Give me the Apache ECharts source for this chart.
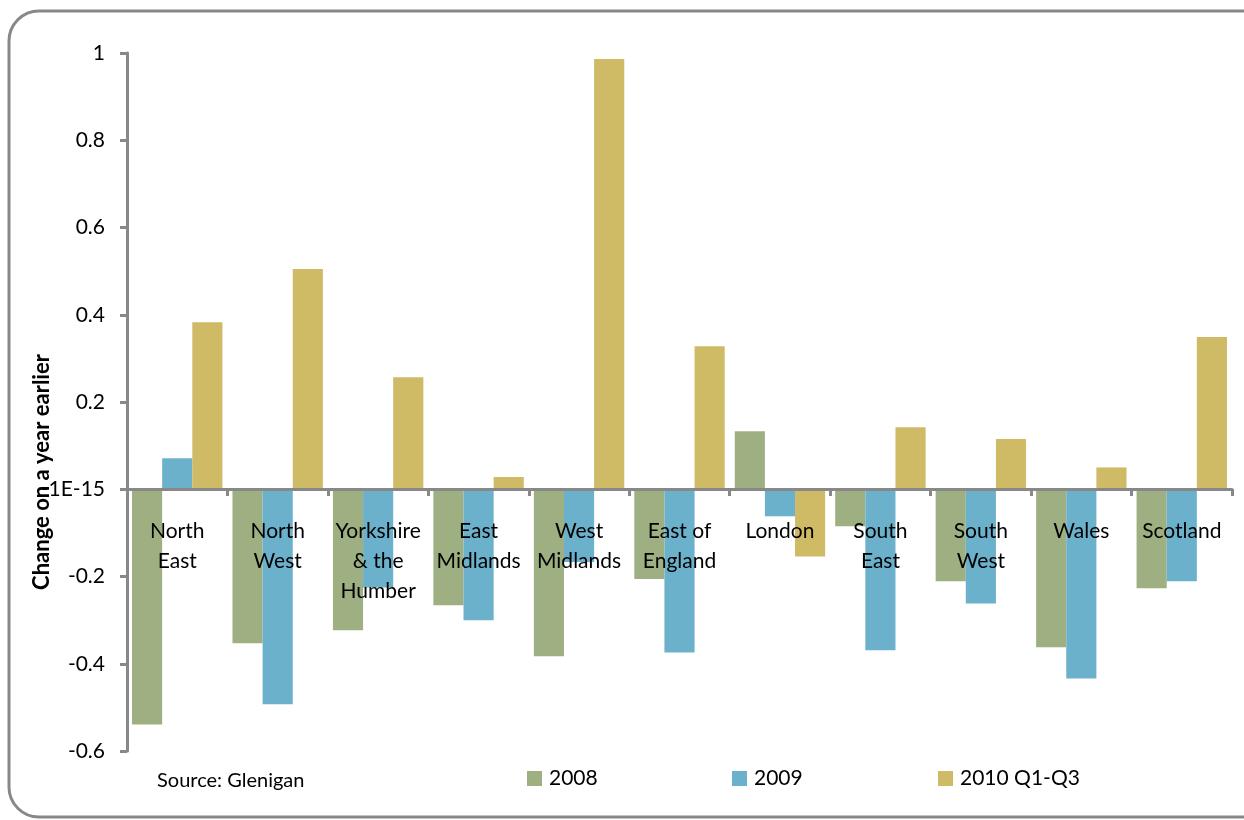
<!DOCTYPE html>
<html><head><meta charset="utf-8">
<script src="https://cdn.jsdelivr.net/npm/echarts@6/dist/echarts.min.js"></script>
<style>html,body{margin:0;padding:0;background:#fff}#c{width:1244px;height:820px}</style>
</head><body><div id="c"></div>
<script>
var categories = ['North\nEast','North\nWest','Yorkshire\n& the\nHumber','East\nMidlands','West\nMidlands','East of\nEngland','London','South\nEast','South\nWest','Wales','Scotland'];
var s2008 = [-0.539,-0.353,-0.323,-0.266,-0.383,-0.206,0.133,-0.085,-0.211,-0.362,-0.227];
var s2009 = [0.071,-0.493,-0.225,-0.300,-0.167,-0.374,-0.062,-0.369,-0.262,-0.434,-0.211];
var s2010 = [0.383,0.505,0.257,0.028,0.986,0.328,-0.154,0.142,0.115,0.050,0.349];
var seriesNames = ['2008','2009','2010 Q1-Q3'];
var colors = ['#9EB081','#6BB1CB','#CFBA66'];
var FONT = 'Lato';
var chart = echarts.init(document.getElementById('c'));
function legendFor(i, left){
  return {data:[seriesNames[i]], left:left, top:763, itemWidth:15, itemHeight:15, icon:'rect', itemGap:0,
    textStyle:{fontFamily:FONT, fontSize:21, color:'#000', padding:[0,0,0,2]}, selectedMode:false};
}
chart.setOption({
  animation:false,
  color:colors,
  grid:{left:127, right:12, top:53, bottom:69, containLabel:false, outerBoundsMode:'none'},
  legend:[legendFor(0,522), legendFor(1,727), legendFor(2,933)],
  xAxis:{type:'category', data:categories, position:'bottom', offset:-262, z:10,
    axisLine:{onZero:false, lineStyle:{color:'#888', width:3}},
    axisTick:{show:true, length:7, lineStyle:{color:'#888', width:3}},
    axisLabel:{interval:0, margin:27, fontFamily:FONT, fontSize:21, color:'#000', lineHeight:30}},
  yAxis:{type:'value', min:-0.6, max:1, interval:0.2,
    splitLine:{show:false},
    axisLine:{show:true, lineStyle:{color:'#888', width:3}},
    axisTick:{show:true, length:7, lineStyle:{color:'#888', width:3}},
    axisLabel:{margin:22, fontFamily:FONT, fontSize:21, color:'#000',
      formatter:function(v){ var r=Math.round(v*10)/10; if(r===0) return '-1E-15'; return String(r);} }},
  series:[
    {name:seriesNames[0], type:'bar', data:s2008, barGap:'0%', barCategoryGap:'10%', itemStyle:{color:colors[0]}},
    {name:seriesNames[1], type:'bar', data:s2009, barGap:'0%', barCategoryGap:'10%', itemStyle:{color:colors[1]}},
    {name:seriesNames[2], type:'bar', data:s2010, barGap:'0%', barCategoryGap:'10%', itemStyle:{color:colors[2]}}
  ],
  graphic:[
    {type:'rect', shape:{x:9, y:11, width:1270, height:806, r:30}, style:{fill:null, stroke:'#888', lineWidth:3}, silent:true, z:-1},
    {type:'text', x:42, y:472, rotation:Math.PI/2, z:20, style:{text:'Change on a year earlier', fontFamily:FONT, fontSize:22, fontWeight:'bold', fill:'#000', align:'center', verticalAlign:'middle'}},
    {type:'text', x:157, y:781, style:{text:'Source: Glenigan', fontFamily:FONT, fontSize:20, fill:'#000', verticalAlign:'middle'}}
  ]
});
</script></body></html>
